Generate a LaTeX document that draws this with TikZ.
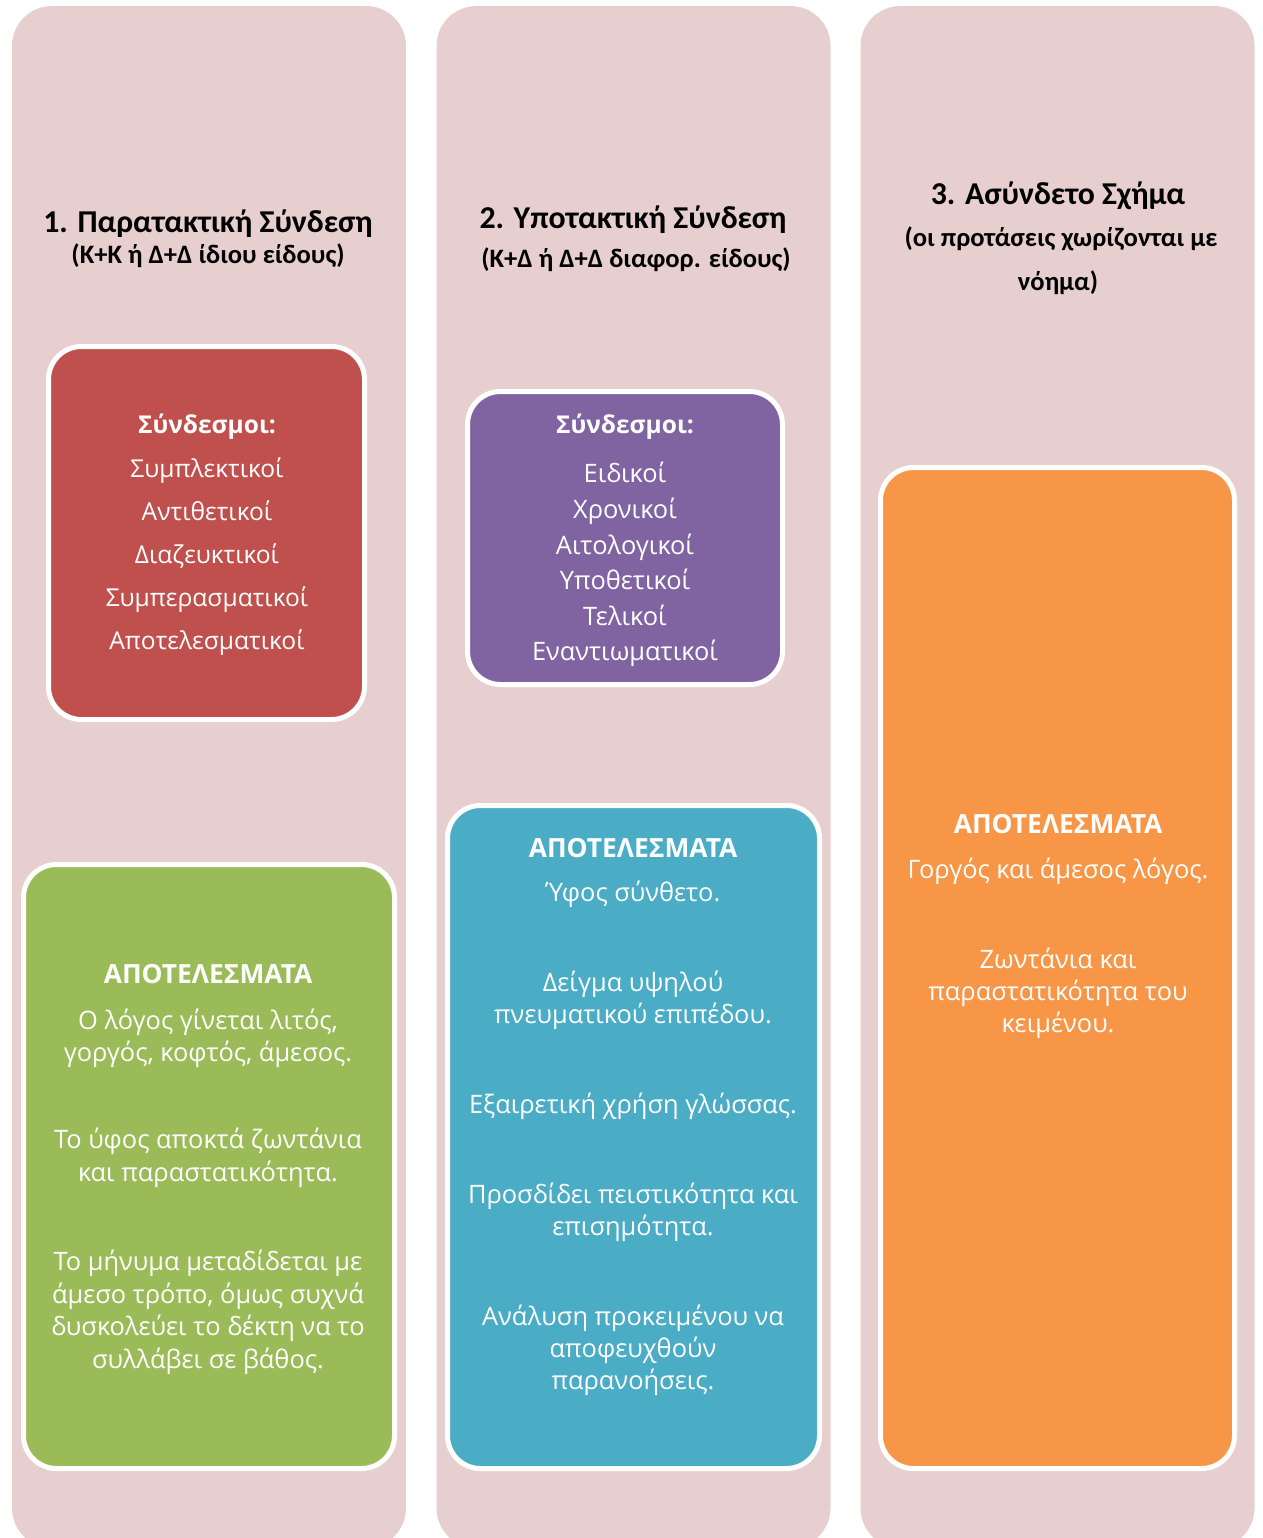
\documentclass[tikz,border=0pt]{standalone}
\usepackage{fontspec}
\setmainfont{Open Sans}
\newfontfamily\calfont{Carlito}
\definecolor{colbg}{HTML}{E7CFCF}
\definecolor{redf}{HTML}{C0504D}
\definecolor{purplef}{HTML}{8064A2}
\definecolor{greenf}{HTML}{9BBB59}
\definecolor{bluef}{HTML}{4BACC6}
\definecolor{orangef}{HTML}{F79646}
\tikzset{
  column/.style={fill=colbg, draw=none, rounded corners=40pt, inner sep=0pt, minimum width=394pt, minimum height=1542pt},
  cbox/.style={draw=white, line width=5pt, rounded corners=33pt, inner sep=0pt},
  title/.style={anchor=base, inner sep=0pt, text=black, font=\calfont\bfseries\fontsize{31.8}{36}\selectfont},
  subtitle/.style={anchor=base, inner sep=0pt, text=black, font=\calfont\bfseries\fontsize{26.6}{30}\selectfont},
  body/.style={anchor=base, inner sep=0pt, text=white, font=\fontsize{25.4}{30}\selectfont},
  rbody/.style={anchor=base, inner sep=0pt, text=white, font=\fontsize{24.6}{30}\selectfont},
  head/.style={anchor=base, inner sep=0pt, text=white, font=\bfseries\fontsize{26.4}{30}\selectfont},
  shead/.style={anchor=base, inner sep=0pt, text=white, font=\bfseries\fontsize{24.5}{30}\selectfont},
}
\begin{document}
\begin{tikzpicture}[x=1pt,y=-1pt]
\useasboundingbox (0,0) rectangle (1262,1538);
\begin{scope}
\clip (0,0) rectangle (1262,1538);
\node[column] (col1) at (209,777) {};
\node[column] (col2) at (633.5,777) {};
\node[column] (col3) at (1057.5,777) {};
\end{scope}
% titles
\node[title] (t1) at (208,233) {1. Παρατακτική Σύνδεση};
\node[subtitle] (s1) at (208,263) {(Κ+Κ ή Δ+Δ ίδιου είδους)};
\node[title] (t2) at (633,229) {2. Υποτακτική Σύνδεση};
\node[subtitle] (s2) at (636,267) {(Κ+Δ ή Δ+Δ διαφορ. είδους)};
\node[title] (t3) at (1058,205) {3. Ασύνδετο Σχήμα};
\node[subtitle] (s3a) at (1061,247) {(οι προτάσεις χωρίζονται με};
\node[subtitle] (s3b) at (1058,290) {νόημα)};
% boxes
\node[cbox, fill=redf, minimum width=316pt, minimum height=373pt] (redbox) at (206.5,533) {};
\node[cbox, fill=purplef, minimum width=315pt, minimum height=293pt] (purplebox) at (625,538) {};
\node[cbox, fill=greenf, minimum width=371pt, minimum height=604pt] (greenbox) at (209,1166.5) {};
\node[cbox, fill=bluef, minimum width=372pt, minimum height=663pt] (bluebox) at (633.5,1137) {};
\node[cbox, fill=orangef, minimum width=354pt, minimum height=1001pt] (orangebox) at (1057.5,968) {};
% red box text
\node[shead] (rh) at (207,433) {Σύνδεσμοι:};
\foreach \t/\y [count=\i] in {Συμπλεκτικοί/477, Αντιθετικοί/520, Διαζευκτικοί/563, Συμπερασματικοί/606, Αποτελεσματικοί/649}
  \node[rbody] (r\i) at (207,\y) {\t};
% purple box text
\node[shead] (ph) at (625,433) {Σύνδεσμοι:};
\foreach \t/\y [count=\i] in {Ειδικοί/482, Χρονικοί/518, Αιτολογικοί/554, Υποθετικοί/589, Τελικοί/625, Εναντιωματικοί/660}
  \node[body] (p\i) at (625,\y) {\t};
% green box text
\node[head] (gh) at (208,983) {ΑΠΟΤΕΛΕΣΜΑΤΑ};
\foreach \t/\y [count=\i] in {{Ο λόγος γίνεται λιτός,}/1029, {γοργός, κοφτός, άμεσος.}/1061, Το ύφος αποκτά ζωντάνια/1148, και παραστατικότητα./1181, Το μήνυμα μεταδίδεται με/1270, {άμεσο τρόπο, όμως συχνά}/1303, δυσκολεύει το δέκτη να το/1335, συλλάβει σε βάθος./1368}
  \node[body] (g\i) at (208,\y) {\t};
% blue box text
\node[head] (bh) at (633,857) {ΑΠΟΤΕΛΕΣΜΑΤΑ};
\foreach \t/\y [count=\i] in {Ύφος σύνθετο./901, Δείγμα υψηλού/991, πνευματικού επιπέδου./1023, Εξαιρετική χρήση γλώσσας./1113, Προσδίδει πειστικότητα και/1203, επισημότητα./1235, Ανάλυση προκειμένου να/1325, αποφευχθούν/1357, παρανοήσεις./1389}
  \node[body] (b\i) at (633,\y) {\t};
% orange box text
\node[head] (oh) at (1058,833) {ΑΠΟΤΕΛΕΣΜΑΤΑ};
\foreach \t/\y [count=\i] in {Γοργός και άμεσος λόγος./878, Ζωντάνια και/968, παραστατικότητα του/1000, κειμένου./1032}
  \node[body] (o\i) at (1058,\y) {\t};
\end{tikzpicture}
\end{document}
